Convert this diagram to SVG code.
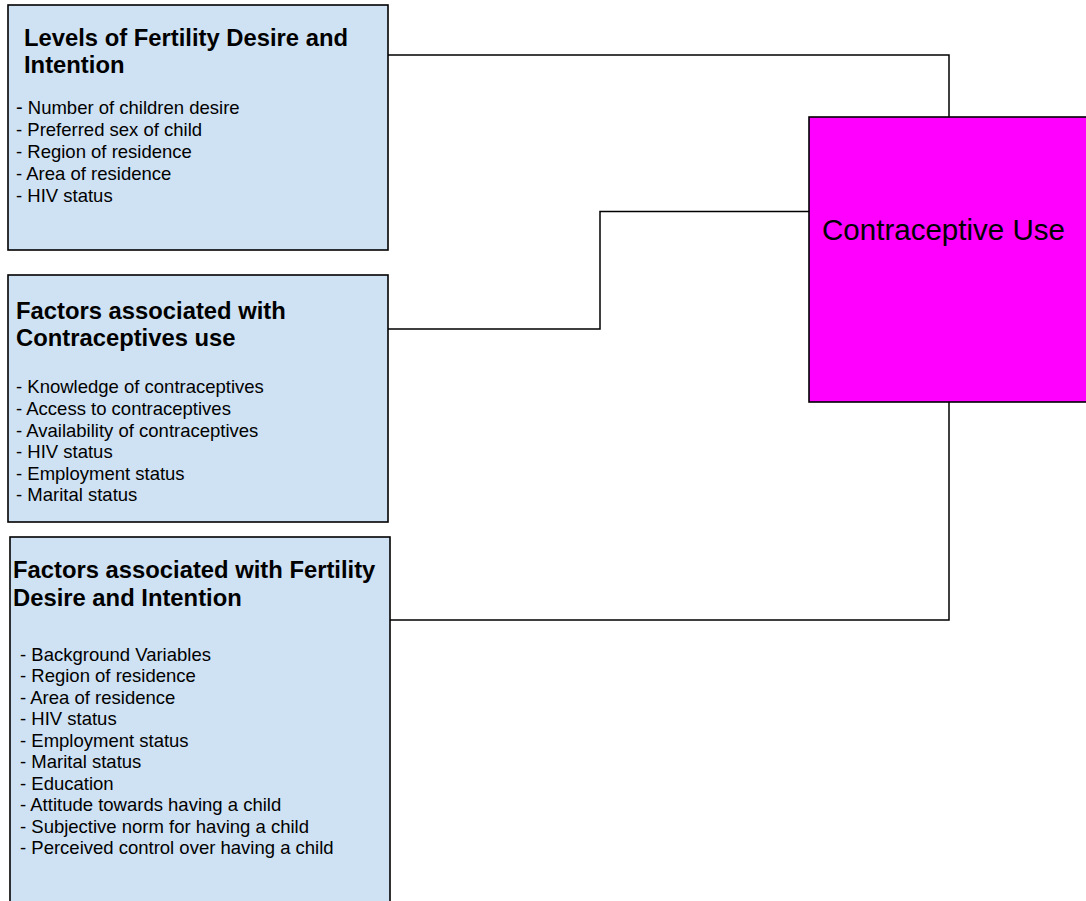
<svg xmlns="http://www.w3.org/2000/svg" width="1086" height="901" viewBox="0 0 1086 901">
<style>
.box{fill:#cfe2f3;stroke:#000;stroke-width:1.6}
.target{fill:#ff00ff;stroke:#000;stroke-width:1.6}
.title{font-family:"Liberation Sans",Arial,sans-serif;font-weight:bold;font-size:23.8px;fill:#000}
.item{font-family:"Liberation Sans",Arial,sans-serif;font-size:18.5px;fill:#000}
.big{font-family:"Liberation Sans",Arial,sans-serif;font-size:30px;fill:#000}
.conn{fill:none;stroke:#000;stroke-width:1.5}
</style>
<rect width="1086" height="901" fill="#fff"/>
<g id="connectors">
<polyline class="conn" points="388,55 949,55 949,117"/>
<polyline class="conn" points="388,329 600,329 600,211.5 809,211.5"/>
<polyline class="conn" points="949,402 949,620 390,620"/>
</g>
<g id="levels">
<rect class="box" x="8" y="5" width="380" height="245"/>
<text class="title" x="24" y="46">Levels of Fertility Desire and</text>
<text class="title" x="24" y="73">Intention</text>
<text class="item" x="16" y="114"><tspan font-size="20">-</tspan> Number of children desire</text>
<text class="item" x="16" y="136">- Preferred sex of child</text>
<text class="item" x="16" y="158">- Region of residence</text>
<text class="item" x="16" y="180">- Area of residence</text>
<text class="item" x="16" y="202">- HIV status</text>
</g>
<g id="factors-contraceptives">
<rect class="box" x="8" y="275" width="380" height="247"/>
<text class="title" x="16" y="319">Factors associated with</text>
<text class="title" x="16" y="346">Contraceptives use</text>
<text class="item" x="16" y="393">- Knowledge of contraceptives</text>
<text class="item" x="16" y="415">- Access to contraceptives</text>
<text class="item" x="16" y="437">- Availability of contraceptives</text>
<text class="item" x="16" y="458">- HIV status</text>
<text class="item" x="16" y="480">- Employment status</text>
<text class="item" x="16" y="501">- Marital status</text>
</g>
<g id="factors-fertility">
<rect class="box" x="10" y="537" width="380" height="380"/>
<text class="title" x="13" y="578">Factors associated with Fertility</text>
<text class="title" x="13" y="606">Desire and Intention</text>
<text class="item" x="20" y="661">- Background Variables</text>
<text class="item" x="20" y="682">- Region of residence</text>
<text class="item" x="20" y="704">- Area of residence</text>
<text class="item" x="20" y="725">- HIV status</text>
<text class="item" x="20" y="747">- Employment status</text>
<text class="item" x="20" y="768">- Marital status</text>
<text class="item" x="20" y="790">- Education</text>
<text class="item" x="20" y="811">- Attitude towards having a child</text>
<text class="item" x="20" y="833">- Subjective norm for having a child</text>
<text class="item" x="20" y="854">- Perceived control over having a child</text>
</g>
<g id="contraceptive-use">
<rect class="target" x="809" y="117" width="290" height="285"/>
<text class="big" x="822" y="240" textLength="243" lengthAdjust="spacingAndGlyphs">Contraceptive Use</text>
</g>
</svg>
